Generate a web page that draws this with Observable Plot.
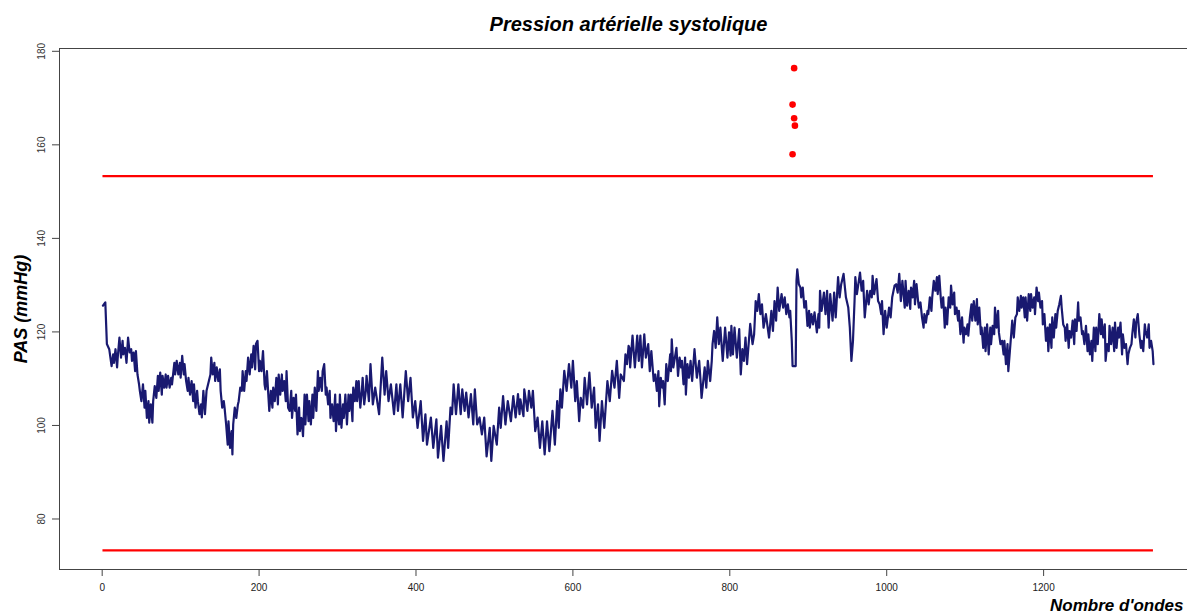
<!DOCTYPE html>
<html>
<head>
<meta charset="utf-8">
<script src="https://cdn.jsdelivr.net/npm/d3@7"></script>
<script src="https://cdn.jsdelivr.net/npm/@observablehq/plot@0.6"></script>
<style>
html,body{margin:0;padding:0;background:#fff;overflow:hidden;}
#chart svg{display:block;}
</style>
</head>
<body>
<div id="chart"></div>
<script>
// ---- data ----
const titleText = "Pression artérielle systolique";
const yLabelText = "PAS (mmHg)";
const xLabelText = "Nombre d'ondes";

const xTicks = [0, 200, 400, 600, 800, 1000, 1200];
const yTicks = [80, 100, 120, 140, 160, 180];
const xDomain = [-54.4, 1383.4];
const yDomain = [69.2, 180.6];

// beat index and systolic pressure (mmHg)
const beats = [
1,4,6,9,12,14,15,17,19,20,22,24,26,27,29,31,33,35,37,38,40,42,43,45,47,48,50,52,54,55,57,59,60,62,64,65,67,69,71,72,74,76,77,79,81,82,84,86,88,89,92,93,95,97,99,100,102,104,105,107,109,110,112,114,116,117,119,121,122,124,126,127,129,131,133,136,138,139,141,143,144,146,148,150,151,153,155,156,158,160,161,163,165,166,167,169,171,173,174,176,178,179,181,183,184,186,188,190,191,193,195,196,198,200,201,203,205,207,208,210,212,213,215,217,218,220,222,224,225,227,229,230,232,234,235,237,239,241,242,244,246,247,249,251,252,254,256,258,259,261,263,264,266,268,269,271,273,275,276,278,280,281,283,285,286,288,290,291,293,295,297,298,300,302,303,305,307,308,310,312,314,315,317,319,320,322,324,325,327,329,331,332,334,336,
337,340,342,345,348,353,357,360,362,365,368,372,375,377,380,383,387,390,393,396,399,402,406,409,412,414,419,422,426,428,432,435,439,441,444,446,448,451,454,457,459,462,464,467,470,473,475,478,481,484,487,490,494,496,499,503,506,508,511,514,517,521,524,527,530,532,533,537,538,542,544,547,549,552,555,558,561,564,567,570,574,577,580,582,584,586,589,592,595,598,600,603,605,608,610,613,615,618,621,624,627,629,632,634,637,640,644,647,650,653,656,659,661,665,667,669,671,
672,673,676,679,682,684,686,688,691,693,696,698,700,703,705,707,709,710,712,714,715,717,719,721,724,725,726,728,732,734,736,738,739,741,743,744,746,748,750,752,755,758,761,763,764,768,770,772,775,777,778,780,782,784,786,788,791,794,797,799,801,802,804,806,809,812,814,816,818,820,822,826,829,831,833,835,837,839,841,843,846,850,853,855,857,859,861,863,866,868,870,872,874,876,877,879,880,884,885,886,888,890,891,893,895,897,899,901,902,904,906,908,911,913,914,915,917,920,922,924,926,928,931,933,935,938,940,942,945,948,951,953,955,957,959,960,962,966,968,970,972,975,977,979,981,982,984,987,989,991,993,994,996,998,1000,1003,1005,1007,1010,
1012,1014,1016,1018,1020,1023,1024,1026,1028,1030,1031,1033,1035,1036,1038,1040,1041,1043,1045,1047,1048,1050,1052,1053,1055,1057,1058,1060,1062,1064,1065,1067,1069,1070,1072,1074,1075,1077,1079,1081,1082,1084,1086,1087,1089,1091,1092,1094,1096,1098,1099,1101,1103,1104,1106,1108,1109,1111,1113,1115,1116,1118,1120,1121,1123,1125,1126,1128,1130,1132,1133,1135,1137,1138,1140,1142,1143,1145,1147,1149,1150,1152,1154,1155,1157,1159,1160,1162,1164,1166,1167,1169,1171,1172,1174,1176,1177,1179,1181,1183,1184,1186,1188,1189,1191,1193,1194,1196,1198,1199,1201,1203,1205,1206,1208,1210,1211,1213,1215,1216,1218,1220,1222,1223,1225,1227,1228,1230,1232,1233,1235,1237,1239,1240,1242,1244,1245,1247,1249,1250,1252,1254,1256,1257,1259,1261,1262,1264,1266,1267,1269,1271,1273,1274,1276,1278,1279,1281,1283,1284,1286,1288,1290,1291,1293,1295,1296,1298,1300,1301,1303,1305,1307,1308,1310,1312,1313,1315,1317,1318,1320,1322,1324,1325,1327,1329,1330,1332,1334,1335,1337,1339,1340
];
const pas = [
125.6,126.3,117.4,116.3,112.7,115.2,113.4,116.3,112.4,114.9,118.8,114.5,118.1,115.2,116.6,113.4,118.8,115.6,116.3,113.8,115.6,111.6,115.9,110.9,108.8,107.4,105.2,108.8,103.8,107.4,101.6,105.2,100.6,104.5,100.6,105.2,108.4,105.9,110.6,107.4,111.3,106.6,110.6,108.1,110.9,108.1,110.6,108.1,110.2,108.8,113.4,110.9,113.8,110.9,113.4,110.2,114.9,110.9,113.1,109.5,107.4,110.2,106.6,109.5,105.2,108.8,103.8,107.4,105.2,102.4,104.5,101.7,107.4,102.4,107.4,109.5,110.9,114.5,110.9,113.4,109.5,112.4,109.5,112.0,107.4,103.8,105.2,103.8,100.2,95.9,100.9,95.2,98.8,93.8,100.2,103.8,101.6,104.5,105.2,108.1,107.4,111.6,107.4,111.6,109.5,114.5,110.9,115.2,112.4,117.0,112.0,117.4,118.1,111.6,113.8,111.6,115.9,108.8,107.7,111.6,105.9,103.1,107.4,103.8,108.1,105.2,110.2,104.5,110.9,106.6,110.9,107.4,109.5,105.2,111.6,103.8,103.1,107.4,101.6,105.9,103.1,106.6,98.1,103.8,98.8,101.6,97.7,106.6,100.2,106.6,100.9,105.2,100.2,106.6,101.6,108.1,103.1,111.6,107.4,110.2,107.4,111.6,113.1,106.6,108.1,104.5,107.4,101.6,104.5,100.9,106.6,98.8,104.5,100.2,106.6,99.5,104.5,101.6,106.6,100.2,106.6,103.1,106.6,100.9,108.1,105.2,109.5,105.2,109.5,103.8,107.4,110.2,104.5,107.4,
110.6,105.2,113.1,104.5,108.1,102.4,114.5,106.6,111.6,105.2,108.8,102.4,108.8,103.1,108.8,101.7,111.6,105.2,110.2,101.7,105.2,99.5,105.2,96.7,102.4,95.9,101.7,95.2,101.3,93.1,99.9,92.4,100.9,95.2,103.8,102.4,108.8,102.4,108.8,102.4,107.7,103.1,107.0,101.7,106.7,100.2,107.7,100.2,101.7,98.1,101.7,93.4,99.5,92.4,99.9,95.9,103.8,99.5,106.3,100.2,105.2,100.9,106.3,101.7,106.7,102.4,105.6,102.0,107.7,103.1,107.4,103.8,107.4,98.8,101.7,95.2,100.9,93.8,100.9,94.5,103.1,95.9,105.2,99.5,107.7,103.8,111.7,107.4,113.1,108.1,113.8,105.2,109.5,100.9,105.9,103.8,110.2,104.5,111.3,103.8,108.1,99.5,104.5,96.7,105.2,99.5,109.5,105.2,111.7,108.1,113.8,105.9,110.9,109.5,115.2,113.1,117.0,
116.6,112.4,119.2,112.4,119.2,113.8,119.2,112.4,119.5,114.5,117.4,111.6,115.9,109.5,110.9,107.4,111.6,104.1,110.2,108.1,109.5,104.5,113.1,109.5,115.2,111.6,118.4,112.4,116.6,110.6,114.5,112.4,113.8,108.8,114.5,106.6,113.1,110.2,113.8,109.5,116.3,110.2,113.8,108.8,105.9,112.4,108.1,113.8,109.5,113.8,117.4,120.2,116.6,123.1,117.4,120.9,113.8,120.9,114.5,119.9,114.9,121.3,115.2,120.9,114.5,120.6,110.9,116.3,113.8,118.8,113.1,121.7,117.4,119.5,126.6,124.5,128.1,123.8,125.9,120.9,123.8,118.8,124.5,120.2,126.6,122.4,129.5,124.5,128.1,125.2,127.4,123.8,125.9,123.1,124.5,118.1,112.7,112.7,130.9,133.4,130.2,129.5,127.4,129.5,125.2,126.6,121.3,124.5,120.9,123.8,121.6,124.2,119.9,123.8,120.9,128.8,124.5,128.4,123.8,128.8,120.9,128.1,122.4,128.4,123.1,131.7,127.4,130.2,132.4,127.4,125.2,120.9,113.8,118.1,126.6,131.7,128.1,132.7,128.8,130.9,123.1,128.8,125.9,128.8,127.4,132.0,128.1,131.3,126.6,125.9,123.8,126.6,119.5,124.5,120.9,125.2,123.1,127.4,129.9,
130.2,128.4,132.4,126.6,130.9,125.2,130.9,125.6,128.8,124.9,129.5,127.4,130.9,125.9,130.2,126.6,125.2,126.3,123.1,120.9,123.8,122.0,124.5,123.8,127.4,124.5,127.4,130.9,128.8,131.7,128.1,132.0,127.0,125.2,127.4,120.9,125.2,121.6,127.4,125.2,129.9,125.9,128.4,123.8,125.2,122.4,124.5,119.5,123.1,117.7,120.9,119.5,121.6,119.2,123.1,125.9,122.4,126.6,122.4,127.0,121.6,125.2,119.5,120.9,116.6,120.9,115.9,121.6,115.2,120.9,117.4,121.3,119.5,125.2,120.9,124.5,119.9,117.4,118.1,115.2,118.1,113.1,117.4,111.6,115.9,120.2,122.4,118.8,123.1,123.8,127.4,124.5,127.7,125.2,127.4,123.1,127.4,122.4,128.1,124.5,128.1,125.2,127.4,123.8,129.5,126.6,128.4,125.2,126.6,121.6,123.8,118.1,120.9,115.9,121.6,116.6,123.1,118.8,123.8,120.9,124.5,125.9,127.7,125.2,121.6,120.9,118.1,121.6,116.6,120.2,118.8,122.4,117.4,122.7,120.2,126.3,122.4,123.1,119.5,120.2,117.4,121.3,115.9,119.5,115.2,118.1,113.8,120.9,115.9,120.9,117.4,123.8,119.5,122.7,118.8,121.6,113.8,117.4,115.9,121.3,117.4,120.9,115.9,122.0,116.6,120.9,118.8,122.0,115.2,119.5,116.6,117.4,113.1,115.2,116.6,117.4,119.5,122.7,118.8,122.0,123.8,119.5,116.6,118.1,115.9,121.6,120.2,118.8,121.6,116.6,118.1,115.9,113.1
];

// outlying beats (red points)
const outlierBeats = [882, 880, 882, 883, 880];
const outlierPas = [176.4, 168.6, 165.7, 164.1, 158.0];

// limit lines (red) and their extent
const limitValues = [153.3, 73.3];
const limitStart = 1;
const limitEnd = 1340;

// ---- build chart ----
const series = beats.map((b, i) => ({beat: b, pas: pas[i]}));
const outliers = outlierBeats.map((b, i) => ({beat: b, pas: outlierPas[i]}));

const font = "'Liberation Sans', Arial, Helvetica, sans-serif";

const chart = Plot.plot({
  width: 1187,
  height: 616,
  marginLeft: 59,
  marginRight: 0,
  marginTop: 48,
  marginBottom: 47,
  style: {fontFamily: font, background: "#fff", color: "#222"},
  x: {domain: xDomain, label: null},
  y: {domain: yDomain, label: null},
  marks: [
    // box (top, bottom, left; right edge lies beyond the picture)
    Plot.ruleY([yDomain[1]], {stroke: "#444", strokeWidth: 1}),
    Plot.ruleY([yDomain[0]], {stroke: "#444", strokeWidth: 1}),
    Plot.ruleX([xDomain[0]], {stroke: "#444", strokeWidth: 1}),
    // axes
    Plot.axisX({ticks: xTicks, tickSize: 7, tickPadding: 7, fontSize: 10, label: null, stroke: "#444", tickFormat: d => String(d)}),
    Plot.axisY({ticks: yTicks, tickSize: 7, tickFormat: () => "", label: null, stroke: "#444"}),
    Plot.text(yTicks, {x: xDomain[0], y: d => d, text: d => String(d), rotate: -90, dx: -18, fontSize: 10, fill: "#333"}),
    // limits
    Plot.ruleY(limitValues, {x1: limitStart, x2: limitEnd, stroke: "#ff0000", strokeWidth: 2.2}),
    // series
    Plot.line(series, {x: "beat", y: "pas", stroke: "#191970", strokeWidth: 2.2, strokeLinejoin: "round"}),
    // outliers
    Plot.dot(outliers, {x: "beat", y: "pas", r: 3.3, fill: "#ff0000", stroke: "none"}),
    // title & labels
    Plot.text([titleText], {frameAnchor: "top", dx: 5, dy: -24, lineAnchor: "middle", textAnchor: "middle", text: d => d, fontSize: 20, fontWeight: "bold", fontStyle: "italic", fill: "#000"}),
    Plot.text([yLabelText], {frameAnchor: "left", dx: -38, rotate: -90, lineAnchor: "middle", textAnchor: "middle", text: d => d, fontSize: 18, fontWeight: "bold", fontStyle: "italic", fill: "#000"}),
    Plot.text([xLabelText], {frameAnchor: "bottom-right", dx: -4, dy: 36, lineAnchor: "middle", textAnchor: "end", text: d => d, fontSize: 17, fontWeight: "bold", fontStyle: "italic", fill: "#000"})
  ]
});
document.getElementById("chart").appendChild(chart);
</script>
</body>
</html>
